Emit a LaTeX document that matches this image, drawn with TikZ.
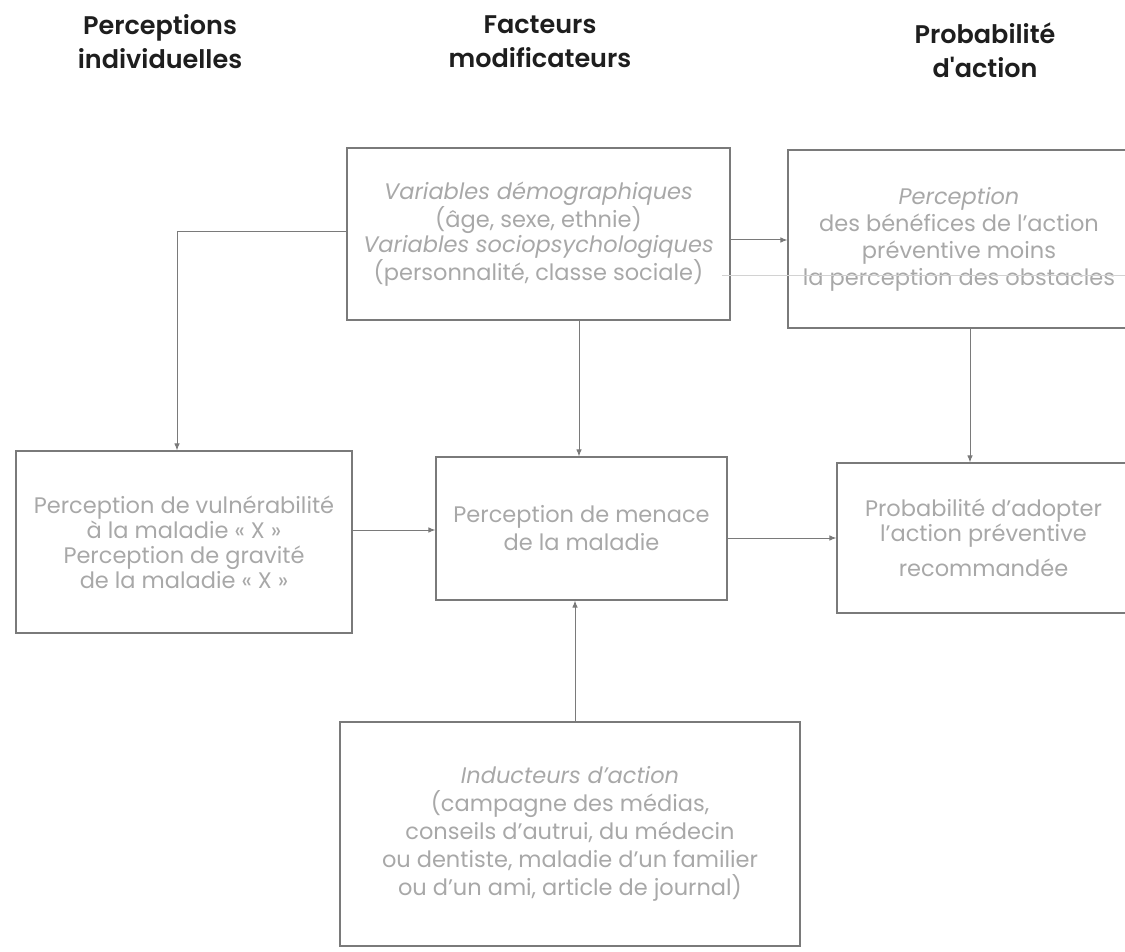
\documentclass[tikz,border=0pt]{standalone}
\usepackage{fontspec}
\setmainfont{Poppins}
\newfontfamily\headfont{Poppins SemiBold}
\usetikzlibrary{arrows.meta,calc}
\definecolor{boxline}{HTML}{7A7A7A}
\definecolor{boxtext}{HTML}{A8A8A8}
\definecolor{headtext}{HTML}{1E1E1E}
\begin{document}
\begin{tikzpicture}[x=1pt,y=-1pt,
  hbox/.style={draw=boxline,line width=1.1pt,inner sep=0pt,align=center,
    text=boxtext,font=\fontsize{22.5}{25}\selectfont},
  head/.style={align=center,text=headtext,font=\headfont\fontsize{25.5}{34}\selectfont},
  arr/.style={draw=boxline,line width=1pt,-{Latex[length=7pt,width=5.5pt]}}]
\useasboundingbox (0,0) rectangle (1125,952);
\clip (0,0) rectangle (1125,952);
% headers
\node[head] (h1) at (160,42) {Perceptions\\individuelles};
\node[head] (h2) at (540,42) {Facteurs\\modificateurs};
\node[head] (h3) at (985,50) {Probabilité\\d'action};
% boxes
\node[hbox,minimum width=383pt,minimum height=172pt] (TM) at (538.5,234)
  {\itshape Variables démographiques\\(âge, sexe, ethnie)\\\itshape Variables sociopsychologiques\\(personnalité, classe sociale)};
\node[hbox,minimum width=342pt,minimum height=178pt,font=\fontsize{22.5}{27}\selectfont] (TR) at (959,239)
  {\itshape Perception\\des bénéfices de l'action\\préventive moins\\la perception des obstacles};
\node[hbox,minimum width=336pt,minimum height=182pt] (L) at (184,542)
  {Perception de vulnérabilité\\à la maladie «~X~»\\Perception de gravité\\de la maladie «~X~»};
\node[hbox,minimum width=291pt,minimum height=143pt,font=\fontsize{22.5}{28}\selectfont] (M) at (581.5,528.5)
  {Perception de menace\\de la maladie};
\node[hbox,minimum width=293pt,minimum height=150pt] (R) at (983.5,538)
  {Probabilité d'adopter\\l'action préventive\\[10pt]recommandée};
\node[hbox,minimum width=460pt,minimum height=224pt,font=\fontsize{22.5}{28}\selectfont] (B) at (570,834)
  {\itshape Inducteurs d'action\\(campagne des médias,\\conseils d'autrui, du médecin\\ou dentiste, maladie d'un familier\\ou d'un ami, article de journal)};
% connector guide coordinates
\coordinate (c1) at (177,232);
\coordinate (c2) at (0,240);
\coordinate (c3) at (579,0);
\coordinate (c4) at (970,0);
\coordinate (c5) at (0,530);
\coordinate (c6) at (0,538);
\coordinate (c7) at (575,0);
% connectors
\draw[arr] (TM.west |- c1) -| (L.north -| c1);
\draw[arr] (TM.east |- c2) -- (TR.west |- c2);
\draw[arr] (TM.south -| c3) -- (M.north -| c3);
\draw[arr] (TR.south -| c4) -- (R.north -| c4);
\draw[arr] (L.east |- c5) -- (M.west |- c5);
\draw[arr] (M.east |- c6) -- (R.west |- c6);
\draw[arr] (B.north -| c7) -- (M.south -| c7);
% faint scan line
\coordinate (s1) at (722,275);
\coordinate (s2) at (1125,275);
\draw[gray!35,line width=0.6pt] (s1) -- (s2);
\end{tikzpicture}
\end{document}
